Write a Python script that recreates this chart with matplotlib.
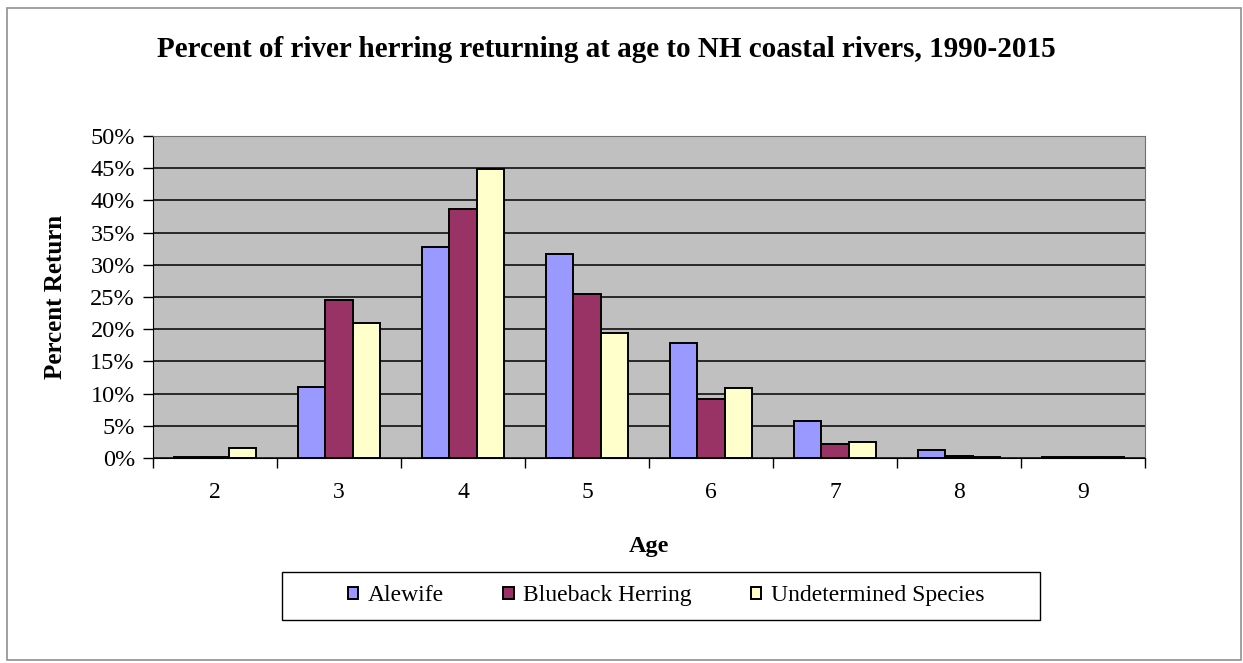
import numpy as np
import matplotlib.pyplot as plt
from matplotlib.patches import Rectangle

# ages and percent return
ages = ['2', '3', '4', '5', '6', '7', '8', '9']
alewife = [0.1, 11.0, 32.7, 31.6, 17.9, 5.7, 1.3, 0.1]
blueback = [0.1, 24.6, 38.6, 25.4, 9.1, 2.1, 0.3, 0.1]
undetermined = [1.6, 21.0, 44.9, 19.4, 10.9, 2.5, 0.1, 0.1]

series_names = ['Alewife', 'Blueback Herring', 'Undetermined Species']
colors = ['#9999FF', '#993366', '#FFFFCC']

plt.rcParams['font.family'] = ['Liberation Serif', 'DejaVu Serif']

fig = plt.figure(figsize=(12.43, 6.63), dpi=100)
# outer chart border
fig.patches.append(Rectangle((0.006, 0.005), 0.992, 0.983, transform=fig.transFigure,
                             fill=False, edgecolor='#909090', linewidth=1.2))

ax = fig.add_axes([0.1231, 0.3092, 0.7981, 0.4857])
ax.set_facecolor('#C0C0C0')

x = np.arange(len(ages))
w = 1 / 4.5
for k, (vals, name, c) in enumerate(zip([alewife, blueback, undetermined], series_names, colors)):
    ax.bar(x + (k - 1) * w, vals, width=w, color=c, edgecolor='black', linewidth=1.4,
           label=name, zorder=3)

ax.set_xlim(-0.5, len(ages) - 0.5)
ax.set_ylim(0, 50)
ax.set_yticks(np.arange(0, 51, 5))
ax.set_yticklabels([f'{v}%' for v in range(0, 51, 5)], fontsize=17.5)
ax.yaxis.grid(True, color='black', linewidth=1.1, zorder=1)
ax.set_axisbelow(True)

ax.set_xticks(x)
ax.set_xticklabels(ages, fontsize=17)
ax.set_xticks(np.arange(-0.5, len(ages)), minor=True)
ax.tick_params(axis='x', which='major', length=0, pad=17)
ax.tick_params(axis='x', which='minor', length=7, direction='out', width=1)
ax.tick_params(axis='y', length=7, direction='out', width=1, pad=6)

for side in ['top', 'right']:
    ax.spines[side].set_color('#707070')
ax.spines['left'].set_color('black')
ax.spines['bottom'].set_color('black')

ax.set_xlabel('Age', fontsize=17.5, fontweight='bold', labelpad=24)
ax.set_ylabel('Percent Return', fontsize=18, fontweight='bold')
ax.yaxis.set_label_coords(-0.087, 0.5)

fig.text(0.488, 0.9246, 'Percent of river herring returning at age to NH coastal rivers, 1990-2015',
         ha='center', va='center', fontsize=21, fontweight='bold')

# legend box drawn separately so the side padding can be wider than the top/bottom
fig.patches.append(Rectangle((0.2269, 0.0649), 0.6098, 0.0724, transform=fig.transFigure,
                             fill=False, edgecolor='black', linewidth=1.0))
leg = fig.legend(loc='center', bbox_to_anchor=(0.5358, 0.1011), ncol=3, fontsize=17,
                 frameon=False, handlelength=0.45, handleheight=0.45, handletextpad=0.4,
                 columnspacing=2.5, borderpad=0)

fig.savefig('out.png', dpi=100, facecolor='white')
